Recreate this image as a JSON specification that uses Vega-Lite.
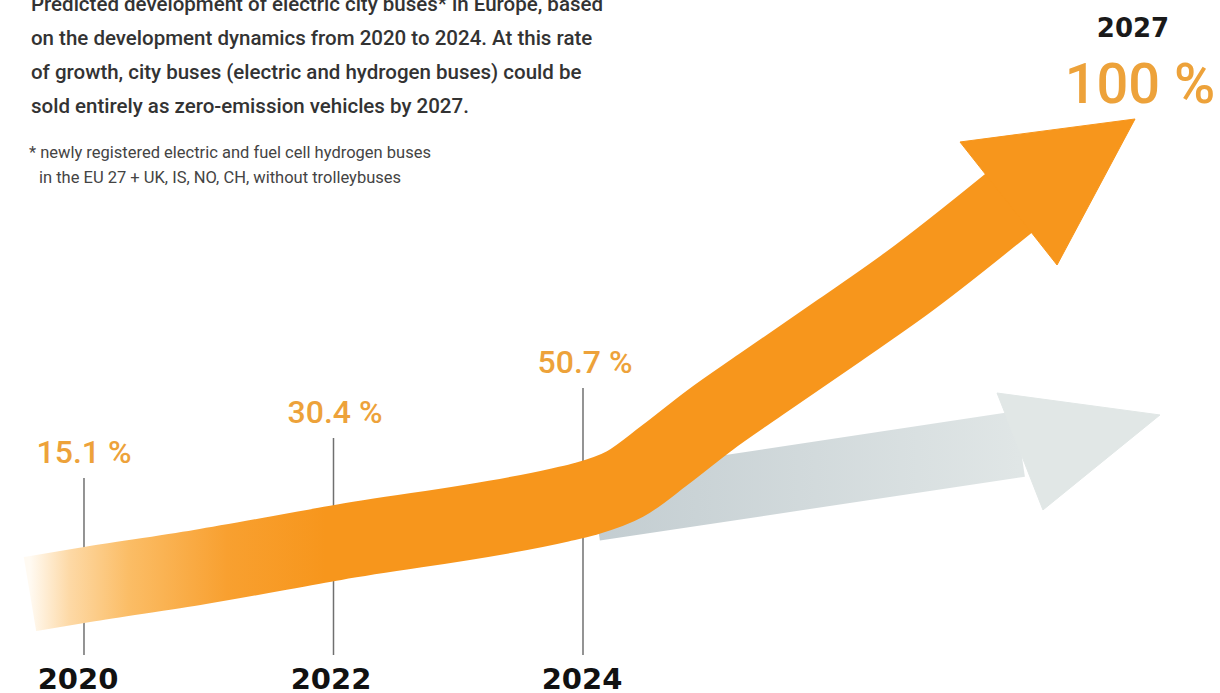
{
  "$schema": "https://vega.github.io/schema/vega-lite/v6.json",
  "width": 1220,
  "height": 693,
  "autosize": {"type": "none"},
  "padding": 0,
  "background": "#ffffff",
  "config": {"view": {"stroke": null}},
  "datasets": {
    "rules": [
      {"yr": 2020, "lv": 31.02, "lv2": 5.48},
      {"yr": 2022, "lv": 36.8, "lv2": 5.48},
      {"yr": 2024, "lv": 44.01, "lv2": 5.48}
    ],
    "grayShaft": [
      {"yr": 2024.096, "lv": 26.7},
      {"yr": 2027.503, "lv": 35.93}
    ],
    "grayHead": [
      {"i": 1, "yr": 2027.319, "lv": 43.29},
      {"i": 2, "yr": 2028.625, "lv": 40.12},
      {"i": 3, "yr": 2027.687, "lv": 26.41}
    ],
    "orangeShaft": [
      {"yr": 2019.567, "lv": 14.29},
      {"yr": 2020.0, "lv": 15.58},
      {"yr": 2020.93, "lv": 18.18},
      {"yr": 2022.012, "lv": 21.65},
      {"yr": 2023.816, "lv": 27.13},
      {"yr": 2024.016, "lv": 27.99},
      {"yr": 2024.337, "lv": 30.16},
      {"yr": 2024.657, "lv": 34.34},
      {"yr": 2025.018, "lv": 39.39},
      {"yr": 2025.419, "lv": 44.44},
      {"yr": 2026.06, "lv": 52.38},
      {"yr": 2026.597, "lv": 59.16},
      {"yr": 2027.463, "lv": 71.43}
    ],
    "orangeHead": [
      {"i": 1, "yr": 2027.022, "lv": 79.51},
      {"i": 2, "yr": 2028.425, "lv": 82.83},
      {"i": 3, "yr": 2027.8, "lv": 61.76}
    ],
    "pct": [
      {"yr": 2020, "lv": 33.19, "t": "15.1 %"},
      {"yr": 2022.012, "lv": 38.96, "t": "30.4 %"},
      {"yr": 2024.016, "lv": 46.18, "t": "50.7 %"}
    ],
    "big": [{"yr": 2028.465, "lv": 85.14, "t": "100 %"}],
    "endYear": [{"yr": 2028.409, "lv": 94.66, "t": "2027"}],
    "years": [
      {"yr": 2019.952, "lv": 0.55, "t": "2020"},
      {"yr": 2021.98, "lv": 0.55, "t": "2022"},
      {"yr": 2023.992, "lv": 0.55, "t": "2024"}
    ],
    "title": [
      {"yr": 2019.575, "lv": 98.41, "t": "Predicted development of electric city buses* in Europe, based"},
      {"yr": 2019.575, "lv": 93.51, "t": "on the development dynamics from 2020 to 2024. At this rate"},
      {"yr": 2019.575, "lv": 88.6, "t": "of growth, city buses (electric and hydrogen buses) could be"},
      {"yr": 2019.575, "lv": 83.69, "t": "sold entirely as zero-emission vehicles by 2027."}
    ],
    "note": [
      {"yr": 2019.559, "lv": 77.2, "t": "* newly registered electric and fuel cell hydrogen buses"},
      {"yr": 2019.639, "lv": 73.59, "t": "in the EU 27 + UK, IS, NO, CH, without trolleybuses"}
    ]
  },
  "encoding": {
    "x": {"field": "yr", "type": "quantitative", "scale": {"domain": [2019.3267, 2029.1062], "nice": false, "zero": false}, "axis": null},
    "y": {"field": "lv", "type": "quantitative", "scale": {"domain": [0, 100], "nice": false, "zero": false}, "axis": null}
  },
  "layer": [
    {
      "data": {"name": "rules"},
      "mark": {"type": "rule", "color": "#707070", "strokeWidth": 1.5},
      "encoding": {"y2": {"field": "lv2"}}
    },
    {
      "data": {"name": "grayShaft"},
      "mark": {"type": "line", "strokeWidth": 66, "strokeCap": "butt",
        "stroke": {"gradient": "linear", "x1": 0, "x2": 1, "y1": 0, "y2": 0,
          "stops": [{"offset": 0, "color": "#c3cdd1"}, {"offset": 1, "color": "#e0e6e6"}]}},
      "encoding": {}
    },
    {
      "data": {"name": "grayHead"},
      "mark": {"type": "line", "interpolate": "linear-closed", "fill": "#e1e7e6", "stroke": "#e1e7e6", "strokeWidth": 1},
      "encoding": {"order": {"field": "i", "type": "quantitative"}}
    },
    {
      "data": {"name": "orangeShaft"},
      "mark": {"type": "line", "interpolate": "monotone", "strokeWidth": 75, "strokeCap": "butt", "strokeJoin": "round",
        "stroke": {"gradient": "linear", "x1": 0, "x2": 1, "y1": 0, "y2": 0,
          "stops": [
            {"offset": 0, "color": "#fffaf2"},
            {"offset": 0.04, "color": "#fdd9a6"},
            {"offset": 0.1, "color": "#fbbd66"},
            {"offset": 0.2, "color": "#f8a030"},
            {"offset": 0.3, "color": "#f7961c"},
            {"offset": 1, "color": "#f7961c"}
          ]}},
      "encoding": {}
    },
    {
      "data": {"name": "orangeHead"},
      "mark": {"type": "line", "interpolate": "linear-closed", "fill": "#f7961c", "stroke": "#f7961c", "strokeWidth": 1},
      "encoding": {"order": {"field": "i", "type": "quantitative"}}
    },
    {
      "data": {"name": "pct"},
      "mark": {"type": "text", "font": "Roboto", "fontSize": 32, "fontWeight": 500, "color": "#eda23a", "align": "center", "baseline": "alphabetic"},
      "encoding": {"text": {"field": "t"}}
    },
    {
      "data": {"name": "big"},
      "mark": {"type": "text", "font": "Roboto", "fontSize": 56, "fontWeight": 500, "color": "#eda23a", "align": "center", "baseline": "alphabetic"},
      "encoding": {"text": {"field": "t"}}
    },
    {
      "data": {"name": "endYear"},
      "mark": {"type": "text", "font": "DejaVu Sans", "fontSize": 26, "fontWeight": "bold", "color": "#1a1a1a", "align": "center", "baseline": "alphabetic"},
      "encoding": {"text": {"field": "t"}}
    },
    {
      "data": {"name": "years"},
      "mark": {"type": "text", "font": "DejaVu Sans", "fontSize": 29, "fontWeight": "bold", "color": "#111111", "align": "center", "baseline": "alphabetic"},
      "encoding": {"text": {"field": "t"}}
    },
    {
      "data": {"name": "title"},
      "mark": {"type": "text", "clip": true, "font": "Roboto", "fontSize": 20.5, "fontWeight": 500, "color": "#333333", "align": "left", "baseline": "alphabetic"},
      "encoding": {"text": {"field": "t"}}
    },
    {
      "data": {"name": "note"},
      "mark": {"type": "text", "font": "Roboto", "fontSize": 16.5, "fontWeight": 400, "color": "#444444", "align": "left", "baseline": "alphabetic"},
      "encoding": {"text": {"field": "t"}}
    }
  ]
}
